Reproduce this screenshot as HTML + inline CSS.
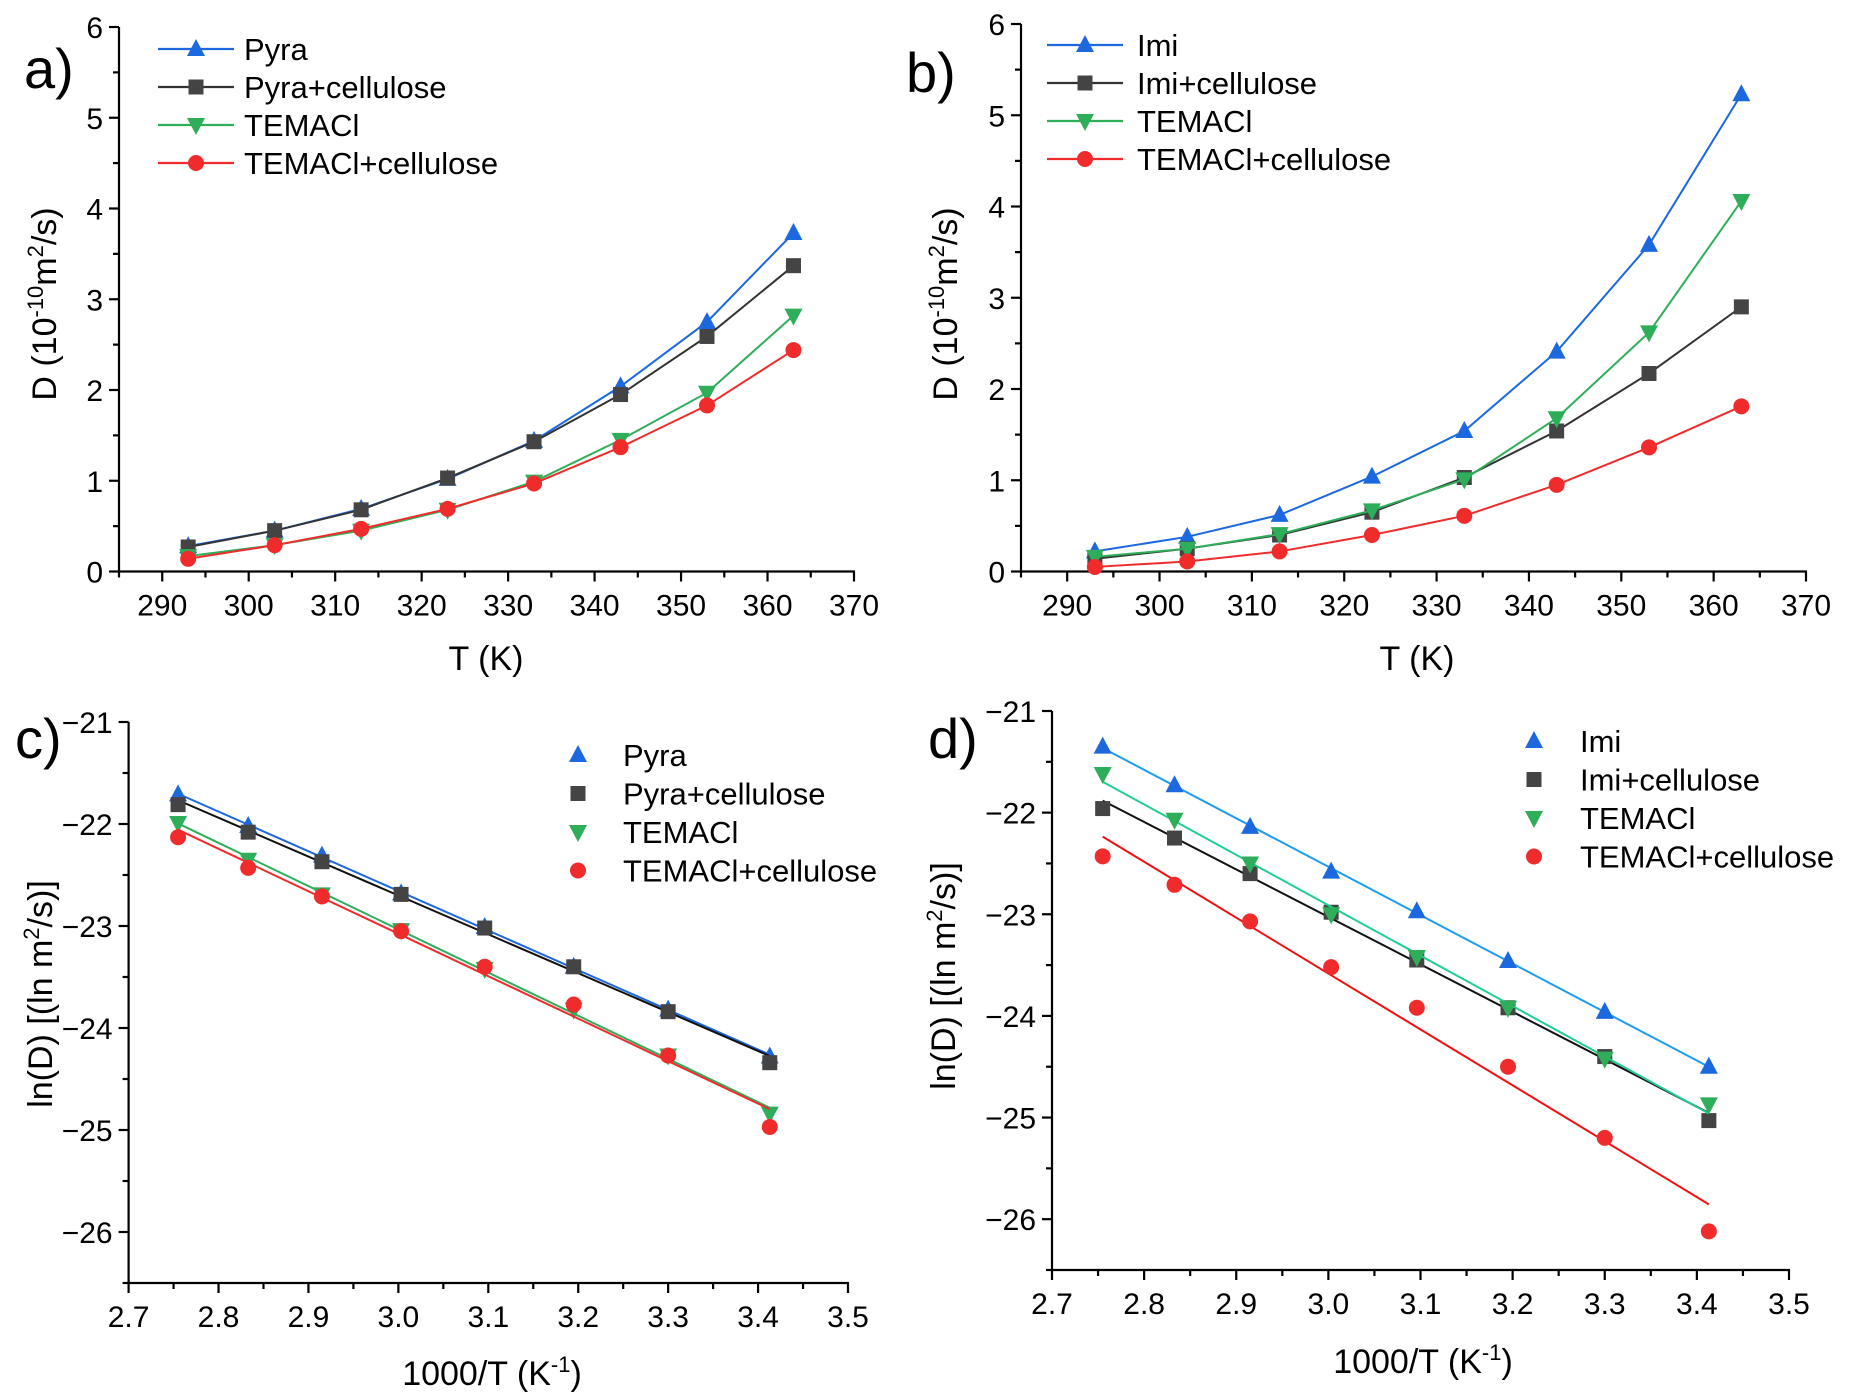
<!DOCTYPE html>
<html><head><meta charset="utf-8"><style>
html,body{margin:0;padding:0;background:#fff}
svg{display:block;font-family:"Liberation Sans",Arial,sans-serif}
</style></head><body>
<svg id="fig" width="1867" height="1397" viewBox="0 0 1867 1397" xmlns="http://www.w3.org/2000/svg"></svg>
<script>
const T = [293,303,313,323,333,343,353,363];
const invT = [2.755,2.833,2.915,3.003,3.096,3.195,3.300,3.413];
const aPyra = [0.28,0.45,0.69,1.02,1.44,2.04,2.75,3.73];
const aPyraCell = [0.27,0.45,0.68,1.03,1.43,1.95,2.59,3.37];
const aTemacl = [0.17,0.29,0.45,0.68,0.99,1.45,1.97,2.82];
const aTemaclCell = [0.14,0.29,0.47,0.69,0.97,1.37,1.83,2.44];
const bImi = [0.22,0.38,0.62,1.04,1.54,2.41,3.58,5.23];
const bImiCell = [0.14,0.25,0.40,0.65,1.03,1.54,2.17,2.90];
const bTemacl = [0.16,0.25,0.41,0.67,1.01,1.68,2.62,4.06];
const bTemaclCell = [0.05,0.11,0.22,0.40,0.61,0.95,1.36,1.81];
const cPyra = [-21.71,-22.02,-22.31,-22.68,-23.01,-23.40,-23.82,-24.28];
const cPyraCell = [-21.81,-22.08,-22.37,-22.69,-23.02,-23.40,-23.84,-24.34];
const cTemacl = [-21.99,-22.35,-22.69,-23.04,-23.42,-23.82,-24.27,-24.84];
const cTemaclCell = [-22.13,-22.43,-22.71,-23.05,-23.40,-23.77,-24.27,-24.97];
const dImi = [-21.35,-21.73,-22.14,-22.58,-22.97,-23.46,-23.96,-24.50];
const dImiCell = [-21.96,-22.25,-22.60,-22.98,-23.45,-23.92,-24.40,-25.03];
const dTemacl = [-21.62,-22.07,-22.50,-23.00,-23.42,-23.92,-24.42,-24.87];
const dTemaclCell = [-22.43,-22.71,-23.07,-23.52,-23.92,-24.50,-25.20,-26.12];
const tTicks = [290,300,310,320,330,340,350,360,370];
const dTicks = [0,1,2,3,4,5,6];
const invTicks = ["2.7","2.8","2.9","3.0","3.1","3.2","3.3","3.4","3.5"];
const lnTicks = [-21,-22,-23,-24,-25,-26];

const NS="http://www.w3.org/2000/svg";
const svg=document.getElementById('fig');
function el(tag,attrs,parent,text){const e=document.createElementNS(NS,tag);for(const k in attrs)e.setAttribute(k,attrs[k]);if(text!==undefined)e.textContent=text;(parent||svg).appendChild(e);return e;}
function marker(g,shape,x,y,color){
  let m;
  if(shape==='tri') m=el('polygon',{points:`${x},${y-10} ${x-9},${y+7} ${x+9},${y+7}`,fill:color},g);
  else if(shape==='dtri') m=el('polygon',{points:`${x},${y+10} ${x-9},${y-7} ${x+9},${y-7}`,fill:color},g);
  else if(shape==='sq') m=el('rect',{x:x-7.5,y:y-7.5,width:15,height:15,fill:color},g);
  else m=el('circle',{cx:x,cy:y,r:8,fill:color},g);
  
  
}
function fit(xs,ys){const n=xs.length;let mx=0,my=0;for(let i=0;i<n;i++){mx+=xs[i];my+=ys[i];}mx/=n;my/=n;let sxy=0,sxx=0;for(let i=0;i<n;i++){sxy+=(xs[i]-mx)*(ys[i]-my);sxx+=(xs[i]-mx)**2;}const b=sxy/sxx;return [b,my-b*mx];}

function panel(p){
  const g=el('g',{},svg);
  
  
  const X=v=>p.L+(v-p.xmin)/(p.xmax-p.xmin)*(p.R-p.L);
  const Y=v=>p.B-(v-p.ymin)/(p.ymax-p.ymin)*(p.B-p.T);
  const ax=el('g',{stroke:'#000','stroke-width':2.2,fill:'none'},g);
  
  
  el('line',{x1:p.L,y1:p.B,x2:p.R+1,y2:p.B},ax);
  el('line',{x1:p.L,y1:p.B+1,x2:p.L,y2:p.T},ax);
  for(let v=p.xmin;v<=p.xmax+1e-9;v+=p.xminor){
    const maj=Math.abs((v-p.xt0)/p.xmaj-Math.round((v-p.xt0)/p.xmaj))<1e-6;
    el('line',{x1:X(v),y1:p.B,x2:X(v),y2:p.B+(maj?10:6)},ax);
  }
  for(let v=p.ymin;v<=p.ymax+1e-9;v+=p.yminor){
    const maj=Math.abs((v-p.yt0)/p.ymaj-Math.round((v-p.yt0)/p.ymaj))<1e-6;
    el('line',{x1:p.L,y1:Y(v),x2:p.L-(maj?10:6),y2:Y(v)},ax);
  }
  p.xlabels.forEach(s=>{const t=el('text',{x:X(parseFloat(s)),y:p.B+44,'font-size':30,'text-anchor':'middle',fill:'#000'},g,String(s));
    });
  p.ylabels.forEach(v=>{const t=el('text',{x:p.L-16,y:Y(v)+11,'font-size':30,'text-anchor':'end',fill:'#000'},g,v<0?'\u2212'+Math.abs(v):String(v));
    });
  p.series.forEach(s=>{
    const sg=el('g',{},g);
    
    
    if(p.fitLines){
      const [b,a]=fit(p.xs,s.data);
      const x0=p.xs[0],x1=p.xs[p.xs.length-1];
      el('line',{x1:X(x0),y1:Y(a+b*x0),x2:X(x1),y2:Y(a+b*x1),stroke:s.line,'stroke-width':2},sg);
    } else {
      el('polyline',{points:p.xs.map((x,i)=>X(x)+','+Y(s.data[i])).join(' '),fill:'none',stroke:s.line,'stroke-width':2},sg);
    }
    p.xs.forEach((x,i)=>marker(sg,s.shape,X(x),Y(s.data[i]),s.color));
  });
  const lg=el('g',{},g);
  
  
  p.series.forEach((s,i)=>{
    const y=p.legY+i*p.legDy;
    const eg=el('g',{},lg);
    
    
    if(p.legLine){el('line',{x1:p.legX,y1:y,x2:p.legX+76,y2:y,stroke:s.line,'stroke-width':2.2},eg);marker(eg,s.shape,p.legX+38,y,s.color);}
    else marker(eg,s.shape,p.legX+12,y,s.color);
    el('text',{x:p.legTX,y:y+11,'font-size':31,fill:'#000'},eg,s.label);
  });
  const pl=el('text',{x:p.letX,y:p.letY,'font-size':56,fill:'#000'},g,p.letter);
  
  const xt=el('text',{x:p.xtX,y:p.xtY,'font-size':34,'text-anchor':'middle',fill:'#000'},g);
  
  xt.innerHTML=p.xtitle;
  const yt=el('text',{x:0,y:0,'font-size':34,'text-anchor':'middle',fill:'#000',transform:`translate(${p.ytX},${p.ytY}) rotate(-90)`},g);
  
  yt.innerHTML=p.ytitle;
}
const BL='#1c68de',BK='#444',GR='#2fae5a',RD='#f02b2b';
const Dtitle='D (10<tspan dy="-13" font-size="22">-10</tspan><tspan dy="13">m</tspan><tspan dy="-13" font-size="22">2</tspan><tspan dy="13">/s)</tspan>';
const Ltitle='ln(D) [(ln m<tspan dy="-13" font-size="22">2</tspan><tspan dy="13">/s)]</tspan>';
const Ktitle='1000/T (K<tspan dy="-13" font-size="22">-1</tspan><tspan dy="13">)</tspan>';
panel({name:'panel-a',L:119,R:854,T:27,B:571.5,xmin:285,xmax:370,ymin:0,ymax:6,xminor:5,xt0:290,xmaj:10,yminor:0.5,yt0:0,ymaj:1,
  xlabels:tTicks,ylabels:dTicks,xs:T,fitLines:false,legLine:true,legX:158,legTX:244,legY:49,legDy:38,
  letter:'a)',letX:24,letY:88,xtitle:'T (K)',xtX:486,xtY:670,ytitle:Dtitle,ytX:56,ytY:304,
  series:[{key:'pyra',label:'Pyra',data:aPyra,shape:'tri',color:BL,line:BL},
          {key:'pyra-cellulose',label:'Pyra+cellulose',data:aPyraCell,shape:'sq',color:BK,line:'#333'},
          {key:'temacl',label:'TEMACl',data:aTemacl,shape:'dtri',color:GR,line:GR},
          {key:'temacl-cellulose',label:'TEMACl+cellulose',data:aTemaclCell,shape:'circ',color:RD,line:RD}]});
panel({name:'panel-b',L:1021,R:1806,T:24,B:571.5,xmin:285,xmax:370,ymin:0,ymax:6,xminor:5,xt0:290,xmaj:10,yminor:0.5,yt0:0,ymaj:1,
  xlabels:tTicks,ylabels:dTicks,xs:T,fitLines:false,legLine:true,legX:1047,legTX:1137,legY:45,legDy:38,
  letter:'b)',letX:906,letY:92,xtitle:'T (K)',xtX:1417,xtY:670,ytitle:Dtitle,ytX:957,ytY:304,
  series:[{key:'imi',label:'Imi',data:bImi,shape:'tri',color:BL,line:BL},
          {key:'imi-cellulose',label:'Imi+cellulose',data:bImiCell,shape:'sq',color:BK,line:'#333'},
          {key:'temacl',label:'TEMACl',data:bTemacl,shape:'dtri',color:GR,line:GR},
          {key:'temacl-cellulose',label:'TEMACl+cellulose',data:bTemaclCell,shape:'circ',color:RD,line:RD}]});
panel({name:'panel-c',L:128.6,R:848,T:722,B:1283,xmin:2.7,xmax:3.5,ymin:-26.5,ymax:-21,xminor:0.05,xt0:2.7,xmaj:0.1,yminor:0.5,yt0:-21,ymaj:1,
  xlabels:invTicks,ylabels:lnTicks,xs:invT,fitLines:true,legLine:false,legX:566,legTX:623,legY:755,legDy:38.5,
  letter:'c)',letX:15,letY:758,xtitle:Ktitle,xtX:492,xtY:1385,ytitle:Ltitle,ytX:52,ytY:994,
  series:[{key:'pyra',label:'Pyra',data:cPyra,shape:'tri',color:BL,line:BL},
          {key:'pyra-cellulose',label:'Pyra+cellulose',data:cPyraCell,shape:'sq',color:BK,line:'#111'},
          {key:'temacl',label:'TEMACl',data:cTemacl,shape:'dtri',color:GR,line:GR},
          {key:'temacl-cellulose',label:'TEMACl+cellulose',data:cTemaclCell,shape:'circ',color:RD,line:RD}]});
panel({name:'panel-d',L:1052,R:1789,T:711,B:1270,xmin:2.7,xmax:3.5,ymin:-26.5,ymax:-21,xminor:0.05,xt0:2.7,xmaj:0.1,yminor:0.5,yt0:-21,ymaj:1,
  xlabels:invTicks,ylabels:lnTicks,xs:invT,fitLines:true,legLine:false,legX:1522,legTX:1580,legY:741,legDy:38.5,
  letter:'d)',letX:928,letY:758,xtitle:Ktitle,xtX:1423,xtY:1373,ytitle:Ltitle,ytX:955,ytY:976,
  series:[{key:'imi',label:'Imi',data:dImi,shape:'tri',color:BL,line:'#1e9cf0'},
          {key:'imi-cellulose',label:'Imi+cellulose',data:dImiCell,shape:'sq',color:BK,line:'#111'},
          {key:'temacl',label:'TEMACl',data:dTemacl,shape:'dtri',color:GR,line:'#1fcf8f'},
          {key:'temacl-cellulose',label:'TEMACl+cellulose',data:dTemaclCell,shape:'circ',color:RD,line:'#f01010'}]});
</script>
</body></html>
